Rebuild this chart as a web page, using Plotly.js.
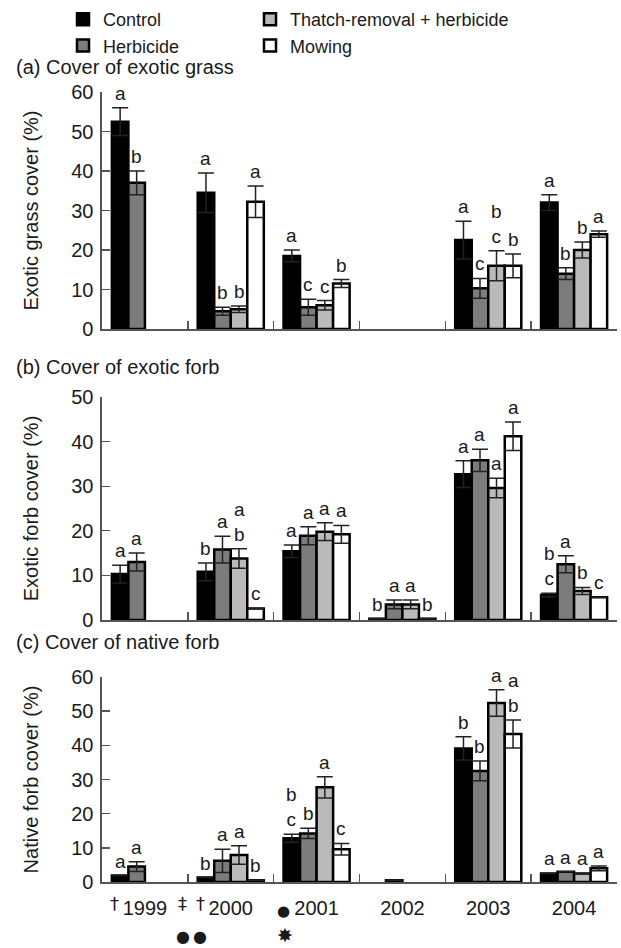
<!DOCTYPE html>
<html><head><meta charset="utf-8">
<script src="https://cdn.plot.ly/plotly-3.0.1.min.js"></script>
<style>html,body{margin:0;padding:0;background:#fff}#chart{width:621px;height:948px}</style>
</head><body><div id="chart"></div>
<script>
// ---------- data ----------
const years = ['1999', '2000', '2001', '2002', '2003', '2004'];
const treatments = ['Control', 'Herbicide', 'Thatch-removal + herbicide', 'Mowing'];

// (a) Cover of exotic grass (%)
const grassControl  = [52.5, 34.5, 18.5, null, 22.5, 32.0];
const grassHerb     = [37.0, 4.5, 5.5, null, 10.3, 14.0];
const grassThatch   = [null, 5.0, 6.0, null, 16.0, 20.0];
const grassMowing   = [null, 32.2, 11.5, null, 16.0, 24.0];
const grassControlErr = [3.5, 5.0, 1.5, null, 4.8, 2.0];
const grassHerbErr    = [3.0, 1.0, 2.0, null, 2.5, 1.5];
const grassThatchErr  = [null, 0.8, 1.2, null, 3.8, 2.0];
const grassMowingErr  = [null, 4.0, 1.0, null, 3.0, 0.8];
const grassControlLet = ['a', 'a', 'a', '', 'a', 'a'];
const grassHerbLet    = ['b', 'b', 'c', '', 'c', 'b'];
const grassThatchLet  = ['', 'b', 'c', '', 'b<br>c', 'b'];
const grassMowingLet  = ['', 'a', 'b', '', 'b', 'a'];

// (b) Cover of exotic forb (%)
const forbControl  = [10.3, 10.8, 15.4, 0.3, 32.7, 5.6];
const forbHerb     = [13.0, 15.8, 18.9, 3.5, 35.8, 12.5];
const forbThatch   = [null, 13.8, 19.8, 3.5, 29.6, 6.5];
const forbMowing   = [null, 2.6, 19.2, 0.3, 41.2, 5.1];
const forbControlErr = [2.0, 2.0, 1.4, null, 3.0, 0.4];
const forbHerbErr    = [2.0, 3.0, 2.0, 1.0, 2.5, 1.9];
const forbThatchErr  = [null, 2.2, 2.0, 1.0, 2.2, 0.8];
const forbMowingErr  = [null, null, 2.0, null, 3.2, null];
const forbControlLet = ['a', 'b', 'a', 'b', 'a', 'b<br>c'];
const forbHerbLet    = ['a', 'a', 'a', 'a', 'a', 'a'];
const forbThatchLet  = ['', 'a<br>b', 'a', 'a', 'a', 'b'];
const forbMowingLet  = ['', 'c', 'a', 'b', 'a', 'c'];

// (c) Cover of native forb (%)
const nativeControl  = [1.9, 1.3, 12.8, null, 39.1, 2.5];
const nativeHerb     = [4.5, 6.2, 14.2, 0.5, 32.5, 3.0];
const nativeThatch   = [null, 7.9, 27.7, null, 52.4, 2.5];
const nativeMowing   = [null, 0.5, 9.6, null, 43.3, 4.0];
const nativeControlErr = [null, null, 1.2, null, 3.4, null];
const nativeHerbErr    = [1.4, 3.4, 1.5, null, 2.9, null];
const nativeThatchErr  = [null, 2.7, 3.1, null, 3.9, null];
const nativeMowingErr  = [null, null, 1.7, null, 4.1, 0.7];
const nativeControlLet = ['a', 'b', 'b<br>c', '', 'b', 'a'];
const nativeHerbLet    = ['a', 'a', 'b', '', 'b', 'a'];
const nativeThatchLet  = ['', 'a', 'a', '', 'a', 'a'];
const nativeMowingLet  = ['', 'b', 'c', '', 'a<br>b', 'a'];

const panelTitles = ['(a) Cover of exotic grass', '(b) Cover of exotic forb', '(c) Cover of native forb'];
const yTitles = ['Exotic grass cover (%)', 'Exotic forb cover (%)', 'Native forb cover (%)'];

// ---------- styling / layout ----------
const W = 621, H = 948;
const FONT = 'Liberation Sans, Arial, Helvetica, sans-serif';
const TXT = '#1a1a1a';
const AX = '#555';
const colors = ['#000000', '#7c7c7c', '#bababa', '#ffffff'];
const xL = 102, xR = 617;
const BARGAP = 0.23;
const catPx = (xR - xL) / years.length;
const barPx = catPx * (1 - BARGAP) / 4;
const px2y = p => 1 - p / H;
const xIdx = years.map((_, i) => i);
const xRange = [-0.5, years.length - 0.5];
const boundaries = xIdx.map(i => i - 0.5).concat([years.length - 0.5]);

const panels = [
  {vals: [grassControl, grassHerb, grassThatch, grassMowing],
   errs: [grassControlErr, grassHerbErr, grassThatchErr, grassMowingErr],
   lets: [grassControlLet, grassHerbLet, grassThatchLet, grassMowingLet],
   range: [0, 60], dom: [px2y(329), px2y(92)], titleY: 67},
  {vals: [forbControl, forbHerb, forbThatch, forbMowing],
   errs: [forbControlErr, forbHerbErr, forbThatchErr, forbMowingErr],
   lets: [forbControlLet, forbHerbLet, forbThatchLet, forbMowingLet],
   range: [0, 50], dom: [px2y(620), px2y(397)], titleY: 367},
  {vals: [nativeControl, nativeHerb, nativeThatch, nativeMowing],
   errs: [nativeControlErr, nativeHerbErr, nativeThatchErr, nativeMowingErr],
   lets: [nativeControlLet, nativeHerbLet, nativeThatchLet, nativeMowingLet],
   range: [0, 60], dom: [px2y(882), px2y(677)], titleY: 642}
];

const traces = [];
const annotations = [];
const legendStyle = {xanchor: 'left', y: px2y(1), yanchor: 'top', orientation: 'v',
  bgcolor: 'rgba(0,0,0,0)', font: {size: 18, family: FONT, color: TXT}, tracegroupgap: 0};
const layout = {
  width: W, height: H,
  margin: {l: 0, r: 0, t: 0, b: 0},
  paper_bgcolor: '#fff', plot_bgcolor: 'rgba(0,0,0,0)',
  font: {family: FONT, size: 20, color: TXT},
  barmode: 'group', bargap: BARGAP, bargroupgap: 0,
  showlegend: true,
  legend: Object.assign({x: 63 / W}, legendStyle),
  legend2: Object.assign({x: 250 / W}, legendStyle),
  annotations: annotations
};

panels.forEach((p, k) => {
  const n = k === 0 ? '' : String(k + 1);
  const xa = 'x' + n, ya = 'y' + n;
  p.vals.forEach((v, i) => {
    traces.push({
      type: 'bar', x: xIdx, y: v, name: treatments[i],
      xaxis: xa, yaxis: ya,
      marker: {color: colors[i], line: {color: '#000', width: 2.5}},
      error_y: {type: 'data', array: p.errs[i], visible: true, color: '#222', thickness: 1.5, width: 8},
      showlegend: k === 0,
      legend: i < 2 ? 'legend' : 'legend2',
      hoverinfo: 'skip'
    });
    // significance letters
    xIdx.forEach(j => {
      const t = p.lets[i][j];
      if (!t || v[j] == null) return;
      const top = v[j] + (p.errs[i][j] || 0);
      annotations.push({
        xref: xa, yref: ya, x: j, y: top, xshift: (i - 1.5) * barPx, yshift: 2,
        text: t, showarrow: false, yanchor: 'bottom', xanchor: 'center',
        font: {size: 19, family: FONT, color: TXT}, align: 'center'
      });
    });
  });
  // axis with ticks on the year boundaries
  layout['xaxis' + n] = {
    domain: [xL / W, xR / W], anchor: ya, type: 'linear', range: xRange,
    tickmode: 'array', tickvals: boundaries, ticks: 'inside', ticklen: 8,
    tickcolor: AX, tickwidth: 1.6, showticklabels: false,
    showline: true, linecolor: AX, linewidth: 1.6, showgrid: false, zeroline: false,
    fixedrange: true
  };
  layout['yaxis' + n] = {
    domain: p.dom, anchor: xa, range: p.range, dtick: 10, tick0: 0,
    showline: true, linecolor: AX, linewidth: 1.6, ticks: 'inside', ticklen: 8,
    tickcolor: AX, tickwidth: 1.4, showgrid: false, zeroline: false,
    tickfont: {size: 20, family: FONT, color: TXT}, ticklabelstandoff: 3,
    title: {text: yTitles[k], font: {size: 20, family: FONT, color: TXT}, standoff: 27},
    fixedrange: true
  };
  annotations.push({
    xref: 'paper', yref: 'paper', x: 14 / W, y: px2y(p.titleY), xanchor: 'left', yanchor: 'middle',
    text: panelTitles[k], showarrow: false, font: {size: 20, family: FONT, color: TXT}
  });
});

// year labels under panel (c): overlaying axis with labels at the group centres
layout.xaxis4 = {
  overlaying: 'x3', anchor: 'y3', type: 'linear', range: xRange,
  tickmode: 'array', tickvals: xIdx, ticktext: years, ticks: '',
  showline: false, showgrid: false, zeroline: false, side: 'bottom',
  tickfont: {size: 20, family: FONT, color: TXT}, ticklabelstandoff: 12, fixedrange: true
};
traces.push({type: 'scatter', x: xIdx, y: xIdx.map(() => null), xaxis: 'x4', yaxis: 'y3',
  mode: 'markers', showlegend: false, hoverinfo: 'skip'});

// year markers below panel (c)
const marks = [
  {x: 0, dx: -30, y: 903, t: '†', s: 18},
  {x: 1, dx: -48, y: 903, t: '‡', s: 18},
  {x: 1, dx: -30, y: 903, t: '†', s: 18},
  {x: 2, dx: -33, y: 911, t: '●', s: 15},
  {x: 1, dx: -48, y: 936, t: '●', s: 16},
  {x: 1, dx: -31, y: 936, t: '●', s: 16},
  {x: 2, dx: -32, y: 935, t: '✸', s: 19}
];
marks.forEach(m => annotations.push({
  xref: 'x3', yref: 'paper', x: m.x, xshift: m.dx, y: px2y(m.y), yanchor: 'middle', xanchor: 'center',
  text: m.t, showarrow: false, font: {size: m.s, family: 'DejaVu Sans, ' + FONT, color: TXT}
}));

Plotly.newPlot('chart', traces, layout, {staticPlot: true, displayModeBar: false});
</script></body></html>
